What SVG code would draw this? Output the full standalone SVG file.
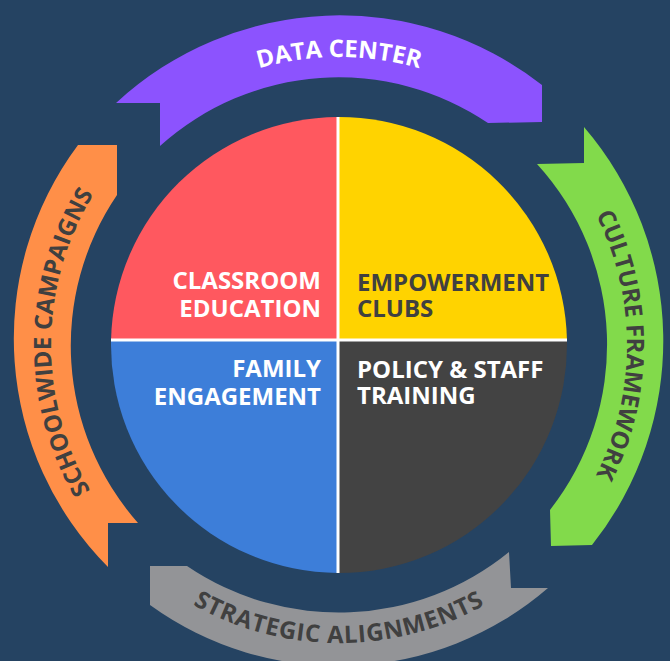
<svg xmlns="http://www.w3.org/2000/svg" width="670" height="661" viewBox="0 0 670 661">
  <style>
    .lbl { font-family: "Open Sans", "Liberation Sans", sans-serif; font-weight: 700; font-size: 24px; }
    .arc { font-family: "Open Sans", "Liberation Sans", sans-serif; font-weight: 700; font-size: 24px; }
    .w { fill: #FFFFFF; }
    .d { fill: #404040; }
    .div { stroke: #FFFFFF; stroke-width: 3; fill: none; }
  </style>
  <defs>
    <path id="pTop" d="M 89.6 201 A 288 288 0 0 1 588.4 201"/>
    <path id="pRight" d="M 483 95.6 A 288 288 0 0 1 483 594.4"/>
    <path id="pLeft" d="M 195 594.4 A 288 288 0 0 1 195 95.6"/>
    <path id="pBottom" d="M 80.9 494 A 298 298 0 0 0 597.1 494"/>
  </defs>
  <rect x="0" y="0" width="670" height="661" fill="#254362"/>

  <g id="cycle">
    <g id="data-center">
      <path d="M 116 103 A 329 329 0 0 1 542 85 L 542 122 L 488 123 A 267 267 0 0 0 160 146 L 160 103 Z" fill="#8C53FE"/>
      <text class="arc w"><textPath href="#pTop" startOffset="50%" text-anchor="middle">DATA CENTER</textPath></text>
    </g>
    <g id="culture-framework">
      <path d="M 584 127 A 328 328 0 0 1 592 545 L 551 546 L 550 510 A 268 268 0 0 0 537 164 L 584 163 Z" fill="#82DA4B"/>
      <text class="arc d"><textPath href="#pRight" startOffset="50%" text-anchor="middle">CULTURE FRAMEWORK</textPath></text>
    </g>
    <g id="strategic-alignments">
      <path d="M 548 588 A 321 321 0 0 1 150 605 L 150 566 L 187 566 A 270 270 0 0 0 509 552 L 511 588 Z" fill="#939497"/>
      <text class="arc d" letter-spacing="0.7"><textPath href="#pBottom" startOffset="50%" text-anchor="middle">STRATEGIC ALIGNMENTS</textPath></text>
    </g>
    <g id="schoolwide-campaigns">
      <path d="M 108 567 A 324 324 0 0 1 78 145 L 117 145 L 117 195 A 268 268 0 0 0 138 523 L 108 523 Z" fill="#FF8F48"/>
      <text class="arc d"><textPath href="#pLeft" startOffset="50.5%" text-anchor="middle">SCHOOLWIDE CAMPAIGNS</textPath></text>
    </g>
  </g>

  <g id="connectors"></g>

  <g id="classroom-education">
    <path d="M 338 340 L 111.05 340 A 228 228 0 0 1 338 117 Z" fill="#FF585F"/>
    <text class="lbl w" text-anchor="end"><tspan x="321" y="289">CLASSROOM</tspan><tspan x="321" y="317">EDUCATION</tspan></text>
  </g>
  <g id="empowerment-clubs">
    <path d="M 338 340 L 338 117 A 228 228 0 0 1 566.95 340 Z" fill="#FFD300"/>
    <text class="lbl d"><tspan x="357" y="291">EMPOWERMENT</tspan><tspan x="357" y="317">CLUBS</tspan></text>
  </g>
  <g id="policy-staff-training">
    <path d="M 338 340 L 566.95 340 A 228 228 0 0 1 338 573 Z" fill="#434343"/>
    <text class="lbl w"><tspan x="357" y="378">POLICY &amp; STAFF</tspan><tspan x="357" y="404">TRAINING</tspan></text>
  </g>
  <g id="family-engagement">
    <path d="M 338 340 L 338 573 A 228 228 0 0 1 111.05 340 Z" fill="#3D7ED9"/>
    <text class="lbl w" text-anchor="end"><tspan x="321" y="377">FAMILY</tspan><tspan x="321" y="405">ENGAGEMENT</tspan></text>
  </g>
  <g id="dividers">
    <line class="div" x1="338" y1="117" x2="338" y2="573"/>
    <line class="div" x1="111" y1="340" x2="567" y2="340"/>
  </g>
</svg>
